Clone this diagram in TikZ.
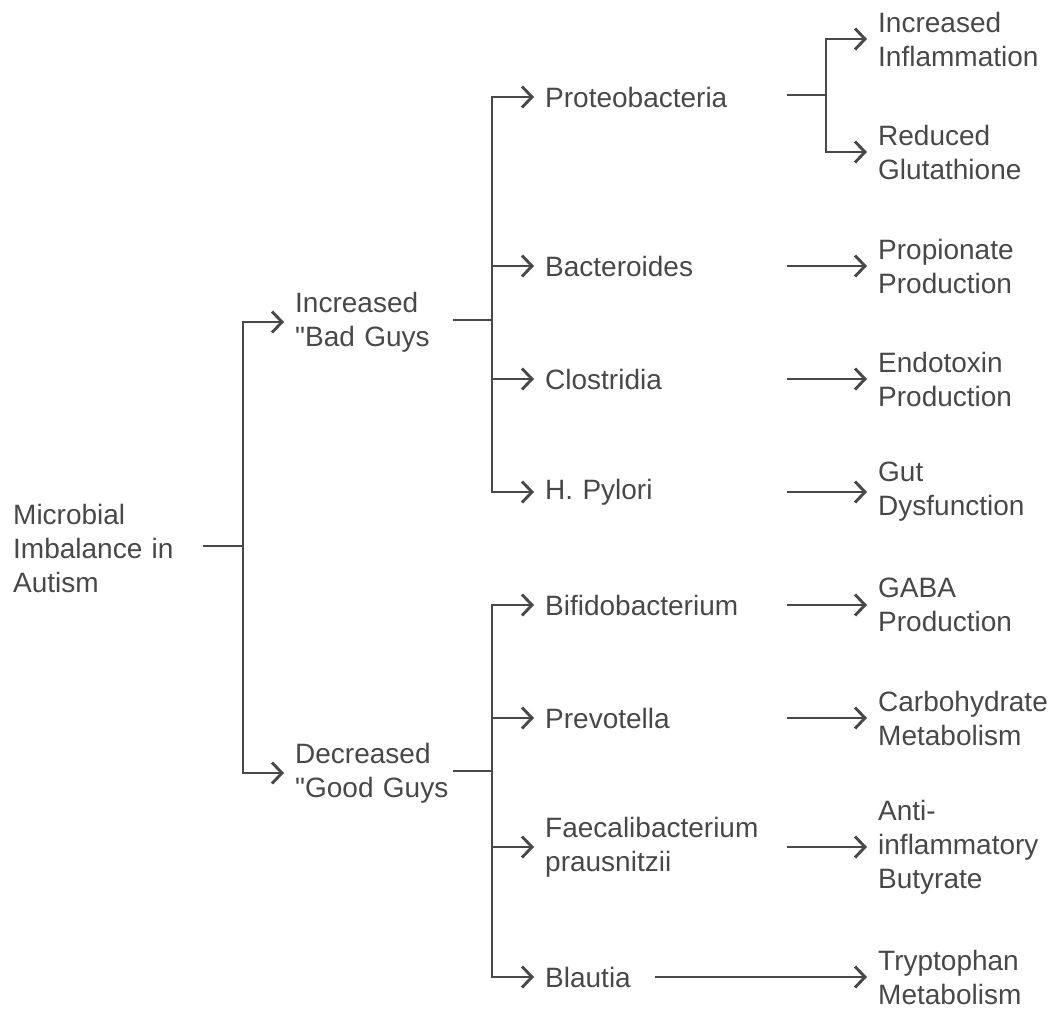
\documentclass[tikz,border=0pt]{standalone}
\usepackage{fontspec}
% plain family without TeX ligature mapping, so " stays a straight quote
\newfontfamily\lblfont{Liberation Sans}
\usetikzlibrary{arrows.meta}
\definecolor{ink}{HTML}{484848}
\tikzset{
  lbl/.style={anchor=west, inner sep=0pt, align=left, text=ink,
    font=\lblfont\fontsize{28}{34}\selectfont},
  wire/.style={draw=ink, line width=2.9pt, line join=miter},
  conn/.style={wire, -{Straight Barb[length=10pt,width=21pt,line width=2.9pt]}, shorten >=11pt},
}
\begin{document}
\begin{tikzpicture}[x=1pt,y=-1pt]
\useasboundingbox (0,0) rectangle (1053,1010);

% root
\node[lbl, text width=190pt] (root) at (13,548) {Microbial\\Imbalance in\\Autism};

% first level
\node[lbl, text width=158pt] (bad)  at (295,322) {Increased\\"Bad Guys};
\node[lbl, text width=158pt] (good) at (295,773) {Decreased\\"Good Guys};

% second level
\node[lbl, text width=242pt] (proteo) at (545,97)  {Proteobacteria};
\node[lbl, text width=242pt] (bacter) at (545,266) {Bacteroides};
\node[lbl, text width=242pt] (clostr) at (545,379) {Clostridia};
\node[lbl, text width=242pt] (hpyl)   at (545,492) {H. Pylori};
\node[lbl, text width=242pt] (bifido) at (545,605) {Bifidobacterium};
\node[lbl, text width=242pt] (prevo)  at (545,718) {Prevotella};
\node[lbl, text width=242pt] (faeca)  at (545,847) {Faecalibacterium\\prausnitzii};
\node[lbl, text width=110pt] (blaut)  at (545,977) {Blautia};

% outcomes
\node[lbl] (infl)  at (878,39)  {Increased\\Inflammation};
\node[lbl] (gluta) at (878,152) {Reduced\\Glutathione};
\node[lbl] (propi) at (878,266) {Propionate\\Production};
\node[lbl] (endo)  at (878,379) {Endotoxin\\Production};
\node[lbl] (gutd)  at (878,492) {Gut\\Dysfunction};
\node[lbl] (gaba)  at (878,605) {GABA\\Production};
\node[lbl] (carb)  at (878,718) {Carbohydrate\\Metabolism};
\node[lbl] (buty)  at (878,847) {Anti-\\inflammatory\\Butyrate};
\node[lbl] (tryp)  at (878,977) {Tryptophan\\Metabolism};

% junction points of the brackets
\coordinate (j0) at (243,546);
\coordinate (j1) at (492,320);
\coordinate (j2) at (492,771);
\coordinate (j3) at (826,95);

% root -> groups
\draw[wire] (root.east |- j0) -- (j0);
\draw[conn] (j0) |- (bad.west);
\draw[conn] (j0) |- (good.west);

% increased group
\draw[wire] (bad.east |- j1) -- (j1);
\foreach \n in {proteo,bacter,clostr,hpyl}
  \draw[conn] (j1) |- (\n.west);

% decreased group
\draw[wire] (good.east |- j2) -- (j2);
\foreach \n in {bifido,prevo,faeca,blaut}
  \draw[conn] (j2) |- (\n.west);

% proteobacteria effects
\draw[wire] (proteo.east |- j3) -- (j3);
\draw[conn] (j3) |- (infl.west);
\draw[conn] (j3) |- (gluta.west);

% single effects
\draw[conn] (bacter.east) -- (propi.west |- bacter.east);
\draw[conn] (clostr.east) -- (endo.west |- clostr.east);
\draw[conn] (hpyl.east)   -- (gutd.west |- hpyl.east);
\draw[conn] (bifido.east) -- (gaba.west |- bifido.east);
\draw[conn] (prevo.east)  -- (carb.west |- prevo.east);
\draw[conn] (faeca.east)  -- (buty.west |- faeca.east);
\draw[conn] (blaut.east)  -- (tryp.west |- blaut.east);
\end{tikzpicture}
\end{document}
